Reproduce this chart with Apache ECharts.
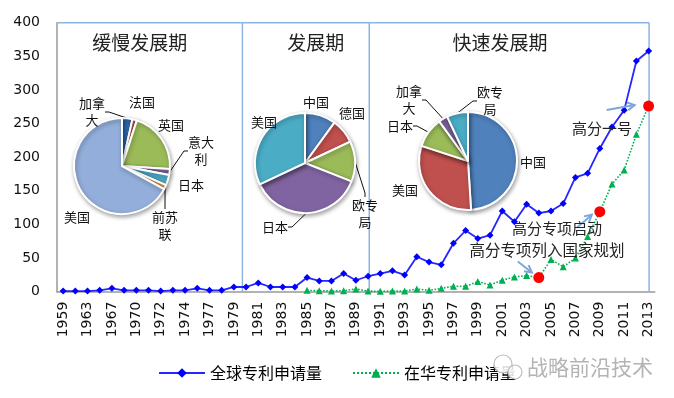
<!DOCTYPE html>
<html>
<head>
<meta charset="utf-8">
<script src="https://cdn.jsdelivr.net/npm/echarts@6/dist/echarts.min.js"></script>
<style>
  html, body { margin: 0; padding: 0; background: #fff; }
  #chart { width: 674px; height: 398px; }
</style>
</head>
<body>
<div id="chart"></div>
<script>
// categories (labels shown every other one)
const years = ['1959', '1961', '1963', '1965', '1967', '1968', '1970', '1971', '1972', '1973',
  '1974', '1976', '1977', '1978', '1979', '1980', '1981', '1982', '1983', '1984',
  '1985', '1986', '1987', '1988', '1989', '1990', '1991', '1992', '1993', '1994',
  '1995', '1996', '1997', '1998', '1999', '2000', '2001', '2002', '2003', '2004',
  '2005', '2006', '2007', '2008', '2009', '2010', '2011', '2012', '2013'];

// 全球专利申请量
const globalApps = [1, 1, 1, 2, 5, 2, 2, 2, 1, 2,
  2, 5, 2, 2, 7, 7, 13, 7, 7, 7,
  21, 16, 16, 27, 17, 23, 27, 31, 25, 52,
  44, 40, 72, 91, 79, 84, 120, 104, 130, 117,
  120, 131, 170, 176, 213, 245, 270, 343, 358];

// 在华专利申请量
const chinaApps = [null, null, null, null, null, null, null, null, null, null,
  null, null, null, null, null, null, null, null, null, null,
  2, 1.5, 1, 1.5, 4, 1, 0.5, 1, 1, 4,
  2, 5, 8, 8, 15, 10, 17, 22, 24, 21,
  48, 37, 50, 82, 119, 160, 181, 234, 276];

const yMin = 0, yMax = 400, yStep = 50;

// milestones (red dots on the China series)
const milestoneYears = ['2004', '2009', '2013'];
const milestoneText = ['高分专项列入国家规划', '高分专项启动', '高分一号'];

// pie shares per period
const slowNames = ['加拿大', '法国', '英国', '意大利', '日本', '前苏联', '美国'];
const slowShares = [3.5, 1.5, 21, 2, 3.5, 1.5, 67];
const midNames = ['中国', '德国', '欧专局', '日本', '美国'];
const midShares = [10, 8, 13, 37, 32];
const fastNames = ['中国', '美国', '日本', '加拿大', '欧专局'];
const fastShares = [49, 31, 10, 3, 7];

const periodTitles = ['缓慢发展期', '发展期', '快速发展期'];

const chart = echarts.init(document.getElementById('chart'));
const cjk = '"Noto Sans CJK SC", "Noto Sans", sans-serif';

const palette = {
  '加拿大': '#2F6DB5', '法国': '#C0504D', '英国': '#9BBB59', '意大利': '#8064A2',
  '日本': '#4BACC6', '前苏联': '#F79646', '美国': '#93AEDA'
};
const midColors = ['#4F81BD', '#C0504D', '#9BBB59', '#8064A2', '#4BACC6'];
const fastColors = ['#4F81BD', '#C0504D', '#9BBB59', '#8064A2', '#4BACC6'];

function wrapName(name) {
  return name.length > 2 ? name.slice(0, 2) + '\n' + name.slice(2) : name;
}

function makePie(names, shares, colors, center, radius, labelPos, lineOn) {
  return {
    type: 'pie',
    center: center,
    radius: radius,
    startAngle: 90,
    avoidLabelOverlap: false,
    silent: true,
    z: 5,
    itemStyle: {
      borderColor: '#fff',
      borderWidth: 2,
      shadowBlur: 4,
      shadowColor: 'rgba(0,0,0,0.35)',
      shadowOffsetX: 1,
      shadowOffsetY: 2
    },
    label: {
      show: true,
      position: 'outside',
      formatter: p => wrapName(p.name),
      color: '#111',
      fontSize: 13,
      lineHeight: 17,
      fontFamily: cjk
    },
    labelLine: { show: true, length: 4, length2: 4, lineStyle: { color: '#111', width: 1 } },
    labelLayout: p => ({
      x: labelPos[p.dataIndex][0],
      y: labelPos[p.dataIndex][1],
      align: 'center',
      verticalAlign: 'middle'
    }),
    data: names.map((n, i) => ({
      name: n,
      value: shares[i],
      itemStyle: { color: colors[i] },
      labelLine: { show: lineOn[i] }
    }))
  };
}

const option = {
  animation: false,
  backgroundColor: '#fff',
  grid: { left: 57, right: 19.3, top: 22.7, bottom: 106.3 },
  legend: {
    data: ['全球专利申请量', '在华专利申请量'],
    left: 153,
    top: 360,
    itemWidth: 46,
    itemHeight: 12,
    itemGap: 30,
    textStyle: { color: '#000', fontSize: 16, fontFamily: cjk }
  },
  xAxis: {
    type: 'category',
    data: years,
    boundaryGap: true,
    axisLine: { lineStyle: { color: '#999', width: 1.5 } },
    axisTick: { show: false },
    axisLabel: {
      interval: 1,
      rotate: 90,
      margin: 10,
      color: '#111',
      fontSize: 14,
      fontFamily: 'DejaVu Sans'
    }
  },
  yAxis: {
    type: 'value',
    min: yMin,
    max: yMax,
    interval: yStep,
    axisLine: { show: true, lineStyle: { color: '#999', width: 1.5 } },
    axisTick: { show: false },
    splitLine: { show: false },
    axisLabel: { color: '#111', fontSize: 14, margin: 17, fontFamily: 'DejaVu Sans' }
  },
  series: [
    {
      name: '全球专利申请量',
      type: 'line',
      data: globalApps,
      symbol: 'diamond',
      symbolSize: 7,
      z: 3,
      lineStyle: { color: '#2626FF', width: 1.8 },
      itemStyle: { color: '#0000FF' }
    },
    {
      name: '在华专利申请量',
      type: 'line',
      data: chinaApps,
      symbol: 'triangle',
      symbolSize: 7,
      z: 3,
      lineStyle: { color: '#00B050', width: 1.6, type: 'dotted' },
      itemStyle: { color: '#00B050' },
      markPoint: {
        symbol: 'circle',
        symbolSize: 11,
        label: { show: false },
        itemStyle: { color: '#FF0000' },
        data: milestoneYears.map(y => ({ coord: [y, chinaApps[years.indexOf(y)]] }))
      }
    },
    makePie(slowNames, slowShares, slowNames.map(n => palette[n]), [122, 166], 48,
      [[92, 112], [142, 102], [171, 125], [201, 151], [191, 185], [165, 226], [77, 217]],
      [true, false, false, true, false, true, false]),
    makePie(midNames, midShares, midColors, [305, 163], 50,
      [[316, 102], [352, 113], [365, 214], [275, 227], [264, 122]],
      [false, false, true, true, false]),
    makePie(fastNames, fastShares, fastColors, [468, 161], 49,
      [[533, 162], [405, 190], [400, 126], [409, 100], [490, 101]],
      [false, false, true, true, true])
  ]
};

chart.setOption(option);

// decorations positioned from the axes
const px = i => chart.convertToPixel({ xAxisIndex: 0 }, i);
const py = v => chart.convertToPixel({ yAxisIndex: 0 }, v);
const step = px(1) - px(0);
const topY = py(yMax), baseY = py(yMin);
const leftX = px(0) - step / 2;
const div1 = px(14) + 0.7 * step;
const div2 = px(25) + 0.1 * step;
const rightX = px(years.length - 1) + 0.5;
const boxColor = '#8DB3E2';

const graphics = [];
graphics.push({ type: 'line', shape: { x1: leftX, y1: topY, x2: rightX, y2: topY }, style: { stroke: boxColor, lineWidth: 1.5 }, z: 1 });
[div1, div2, rightX].forEach(x => {
  graphics.push({ type: 'line', shape: { x1: x, y1: topY, x2: x, y2: baseY }, style: { stroke: boxColor, lineWidth: 1.5 }, z: 1 });
});

// period titles
const titleX = [(leftX + div1) / 2 - 10, (div1 + div2) / 2 + 10, 500];
periodTitles.forEach((t, i) => {
  graphics.push({
    type: 'text', x: titleX[i], y: 43, z: 10,
    style: { text: t, fill: '#222', font: '19px ' + cjk, textAlign: 'center', textVerticalAlign: 'middle' }
  });
});

// milestone arrows and captions
const arrowOffsets = [[-21, -16, -7, -5], [-23, 16, -8, 3], [-42, 4, -14, -1]];
const captionPos = [[547, 250, 15.5], [557, 228, 15], [602, 128, 15]];
milestoneYears.forEach((y, k) => {
  const idx = years.indexOf(y);
  const dx = px(idx), dy = py(chinaApps[idx]);
  const o = arrowOffsets[k];
  const tx = dx + o[0], ty = dy + o[1], hx = dx + o[2], hy = dy + o[3];
  const ang = Math.atan2(hy - ty, hx - tx);
  const len = 8, spread = 0.5;
  graphics.push({ type: 'line', shape: { x1: tx, y1: ty, x2: hx, y2: hy }, style: { stroke: '#7EA6D9', lineWidth: 2 }, z: 9 });
  graphics.push({
    type: 'polyline', z: 9,
    shape: { points: [
      [hx - len * Math.cos(ang - spread), hy - len * Math.sin(ang - spread)],
      [hx, hy],
      [hx - len * Math.cos(ang + spread), hy - len * Math.sin(ang + spread)]
    ] },
    style: { stroke: '#7EA6D9', lineWidth: 2, fill: null }
  });
  const c = captionPos[k];
  graphics.push({
    type: 'text', x: c[0], y: c[1], z: 10,
    style: { text: milestoneText[k], fill: '#222', font: c[2] + 'px ' + cjk, textAlign: 'center', textVerticalAlign: 'middle' }
  });
});

// watermark
graphics.push({ type: 'circle', shape: { cx: 503, cy: 364, r: 9 }, style: { fill: 'rgba(255,255,255,0.85)', stroke: '#bbb', lineWidth: 1.2 }, z: 20 });
graphics.push({ type: 'circle', shape: { cx: 515, cy: 372, r: 7 }, style: { fill: 'rgba(255,255,255,0.85)', stroke: '#bbb', lineWidth: 1.2 }, z: 20 });
graphics.push({
  type: 'text', x: 527, y: 367, z: 20,
  style: { text: '战略前沿技术', fill: '#b4b4b4', font: '21px ' + cjk, textVerticalAlign: 'middle' }
});

chart.setOption({ graphic: graphics });
</script>
</body>
</html>
